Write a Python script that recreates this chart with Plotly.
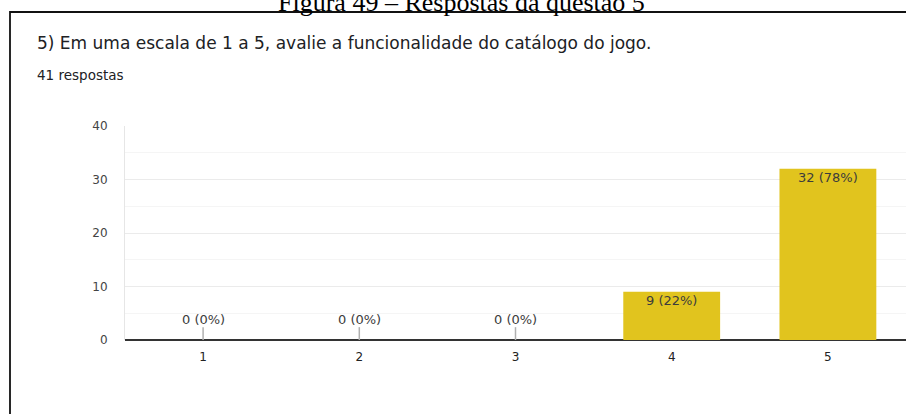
import plotly.graph_objects as go

# Escala de respostas e contagens
categorias = [1, 2, 3, 4, 5]
respostas = [0, 0, 0, 9, 32]
total = 41
rotulos = [f"{v} ({round(100 * v / total)}%)" for v in respostas]

y_ticks = [0, 10, 20, 30, 40]

W, H = 906, 414
bar_color = "#e1c41e"
label_font = dict(family="DejaVu Sans", size=13, color="#3c3c3c")

fig = go.Figure()

fig.add_trace(go.Bar(
    x=categorias,
    y=respostas,
    width=0.62,
    marker=dict(color=bar_color, line=dict(width=0)),
    hoverinfo="skip",
    showlegend=False,
))

# little grey stubs for the empty categories
for c, v in zip(categorias, respostas):
    if v == 0:
        fig.add_trace(go.Scatter(
            x=[c, c], y=[0, 2.4], mode="lines",
            line=dict(color="#b0b0b0", width=1.5),
            hoverinfo="skip", showlegend=False,
        ))

# value labels
for c, v, t in zip(categorias, respostas, rotulos):
    if v == 0:
        fig.add_annotation(x=c, y=0, text=t, showarrow=False, yanchor="bottom",
                           yshift=11, font=label_font)
    else:
        fig.add_annotation(x=c, y=v, text=t, showarrow=False, yanchor="top",
                           yshift=1, font=label_font)

fig.update_xaxes(
    domain=[125 / W, 1],
    range=[0.5, 5.5],
    tickmode="array", tickvals=categorias, ticktext=[str(c) for c in categorias],
    showgrid=False, zeroline=False, showline=False,
    ticks="", ticklabelstandoff=8,
    tickfont=dict(family="DejaVu Sans", size=12, color="#222222"),
)
fig.update_yaxes(
    domain=[74 / H, 288 / H],
    range=[0, 40],
    tickmode="array", tickvals=y_ticks,
    showgrid=True, gridcolor="#ebebeb", gridwidth=1,
    minor=dict(dtick=5, showgrid=True, gridcolor="#f5f5f5", gridwidth=1),
    zeroline=True, zerolinecolor="#333333", zerolinewidth=1.5,
    showline=True, linecolor="#e6e6e6", linewidth=1,
    ticks="", ticklabelstandoff=14,
    tickfont=dict(family="DejaVu Sans", size=12, color="#444444"),
)

# page border box
fig.add_shape(type="rect", xref="paper", yref="paper",
              x0=10 / W, x1=1.01, y0=-0.02, y1=1 - 12 / H,
              line=dict(color="#111111", width=1.8))

# figure caption cut off at the top
fig.add_annotation(xref="paper", yref="paper", x=461 / W, y=1 - 2 / H,
                   text="Figura 49 – Respostas da questão 5", showarrow=False,
                   xanchor="center", yanchor="middle",
                   font=dict(family="Liberation Serif", size=26, color="#000000"))

fig.add_annotation(xref="paper", yref="paper", x=35 / W, y=1 - 43 / H,
                   text="5) Em uma escala de 1 a 5, avalie a funcionalidade do catálogo do jogo.",
                   showarrow=False, xanchor="left", yanchor="middle",
                   font=dict(family="DejaVu Sans", size=17, color="#202124"))
fig.add_annotation(xref="paper", yref="paper", x=35 / W, y=1 - 75 / H,
                   text="41 respostas", showarrow=False, xanchor="left", yanchor="middle",
                   font=dict(family="DejaVu Sans", size=13.5, color="#202124"))

fig.update_layout(
    width=W, height=H,
    margin=dict(l=0, r=0, t=0, b=0, autoexpand=False),
    paper_bgcolor="white", plot_bgcolor="white",
    font=dict(family="DejaVu Sans", size=11),
    bargap=0.38,
)

fig.write_html("out.html", config={"displayModeBar": False},
               post_script="document.body.style.margin='0';")
